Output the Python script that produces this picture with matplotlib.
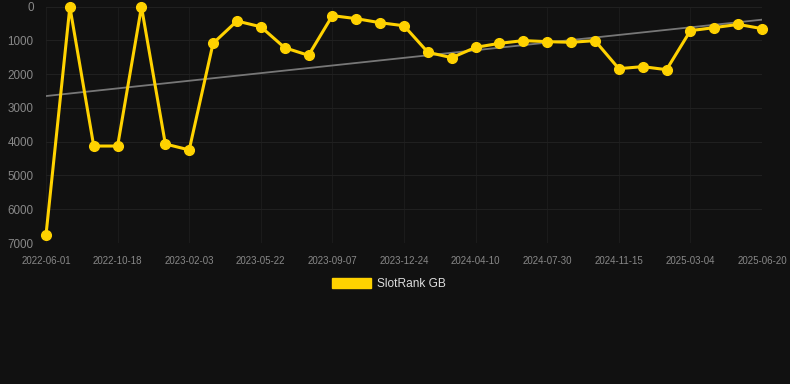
import numpy as np
import matplotlib.pyplot as plt
from matplotlib.patches import Patch

plt.rcParams['font.family'] = ['Liberation Sans', 'DejaVu Sans']

dates = ["2022-06-01", "2022-10-18", "2023-02-03", "2023-05-22", "2023-09-07",
         "2023-12-24", "2024-04-10", "2024-07-30", "2024-11-15", "2025-03-04",
         "2025-06-20"]
rank = [6760, 10, 4130, 4130, 10, 4070, 4245, 1090, 430, 600,
        1220, 1445, 270, 360, 480, 570, 1355, 1515, 1210, 1090,
        1010, 1040, 1060, 1010, 1840, 1780, 1870, 715, 625, 530, 655]
trend_ends = [2650, 390]

bg = '#111111'
gold = '#FFD200'

fig = plt.figure(figsize=(7.9, 3.84), dpi=100, facecolor=bg)
ax = fig.add_axes([46/790, 1 - 243/384, 716/790, 236.5/384], facecolor=bg)

x = np.arange(len(rank))
ax.plot([x[0], x[-1]], trend_ends, color='#777777', lw=1.3, zorder=2)
ax.plot(x, rank, color=gold, lw=2.2, marker='o', ms=7, clip_on=False, zorder=3)

ax.set_xlim(0, len(rank) - 1)
ax.set_ylim(7000, 0)
ax.set_yticks(range(0, 7001, 1000))
ax.set_xticks(x[::3])
ax.set_xticklabels(dates)
ax.tick_params(axis='x', colors='#888888', labelsize=7, length=0, pad=9)
ax.tick_params(axis='y', colors='#888888', labelsize=8.4, length=0, pad=9)
ax.grid(True, axis='y', color='#202020', lw=0.8)
ax.grid(True, axis='x', color='#1b1b1b', lw=0.8)
for s in ax.spines.values():
    s.set_visible(False)

fig.legend([Patch(color=gold)], ["SlotRank GB"], loc='center',
           bbox_to_anchor=(389/790, 1 - 284/384), frameon=False,
           handlelength=3.3, handleheight=1.0, fontsize=8.6,
           labelcolor='#dddddd', handletextpad=0.5)

fig.savefig('out.png', dpi=100, facecolor=bg)
